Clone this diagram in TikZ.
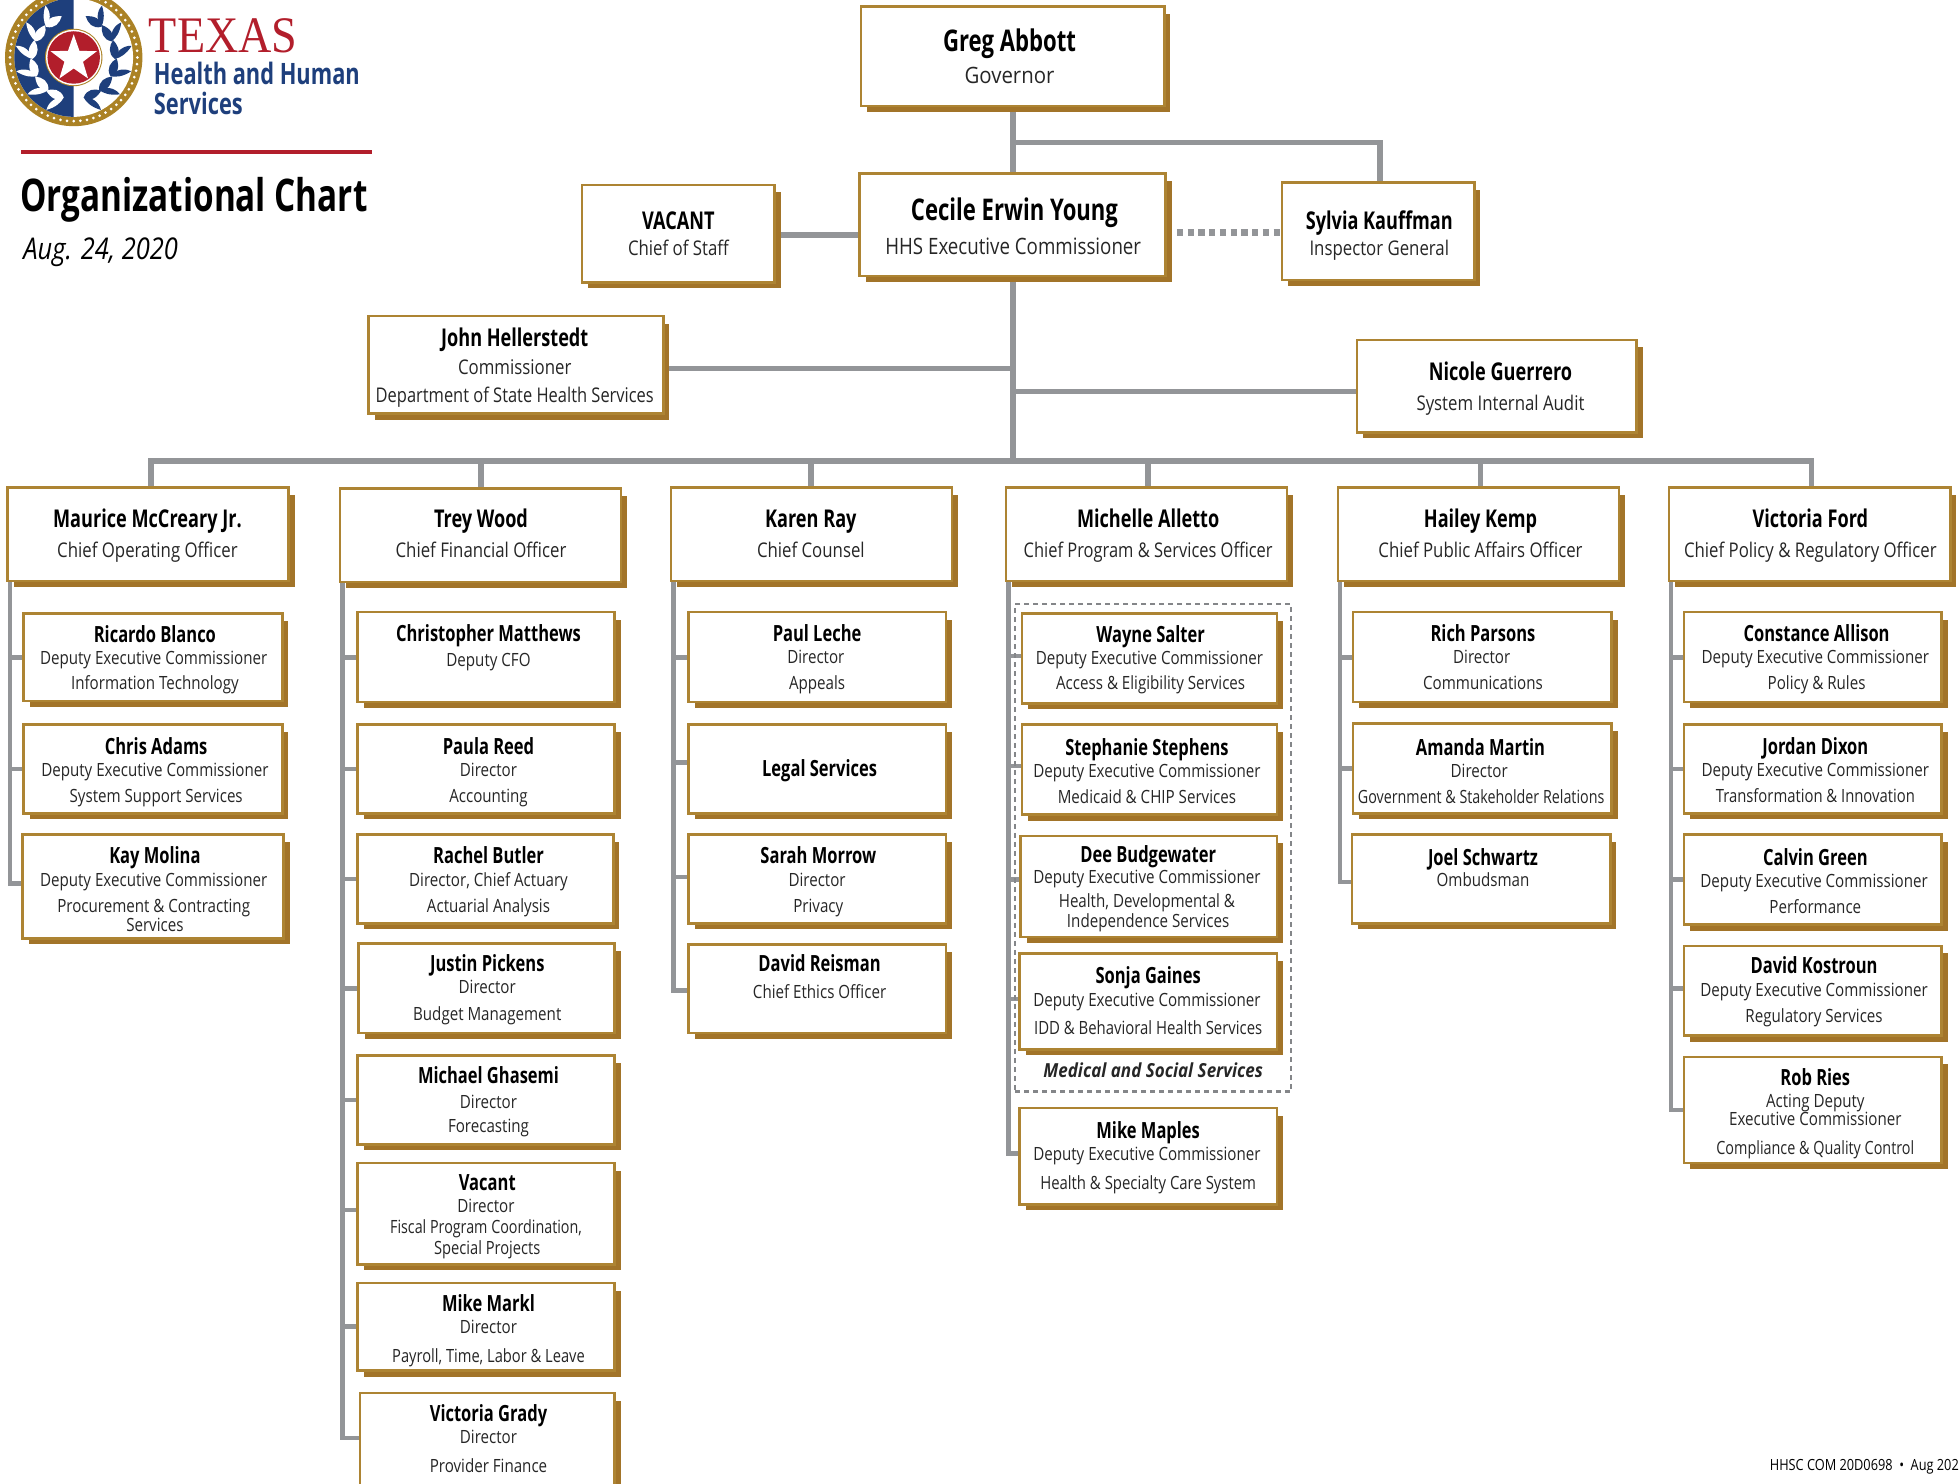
\documentclass[tikz,border=0pt]{standalone}
\usepackage{fontspec}
\usetikzlibrary{shapes.geometric}
\setmainfont{Open Sans}
\newfontfamily\namef[FakeStretch=0.74]{Open Sans Bold}
\newfontfamily\titlef[FakeStretch=0.83]{Open Sans}
\newfontfamily\titleitf[FakeStretch=0.85]{Open Sans Italic}
\newfontfamily\sbif[FakeStretch=0.88]{Open Sans Bold Italic}
\newfontfamily\texasf[FakeStretch=0.9]{Liberation Serif}
\pgfdeclarelayer{bg}
\pgfsetlayers{bg,main}
\definecolor{gold}{HTML}{A27429}
\definecolor{goldline}{HTML}{AD8433}
\definecolor{bar}{HTML}{939598}
\definecolor{texred}{HTML}{B21E2B}
\definecolor{texblue}{HTML}{1E3F7C}
\newcount\tcnt
\tikzset{
  box/.style={draw=goldline,line width=2pt,fill=white,inner sep=0pt,outer sep=0pt,anchor=north west},
  nmA/.style={font=\namef\fontsize{23.9}{24}\selectfont,anchor=base,inner sep=0pt,text=black,yshift=-2pt},
  nmB/.style={font=\namef\fontsize{19.6}{20}\selectfont,anchor=base,inner sep=0pt,text=black,yshift=-2pt},
  nmC/.style={font=\namef\fontsize{17.85}{18}\selectfont,anchor=base,inner sep=0pt,text=black,yshift=-1pt},
  tiA/.style={font=\titlef\fontsize{18.05}{18}\selectfont,anchor=base,inner sep=0pt,text=black!85,yshift=-1pt},
  tiB/.style={font=\titlef\fontsize{16.2}{16}\selectfont,anchor=base,inner sep=0pt,text=black!85,yshift=-1pt},
  tiC/.style={font=\titlef\fontsize{14.6}{14}\selectfont,anchor=base,inner sep=0pt,text=black!85,yshift=0.3pt},
  trunk/.style={draw=bar,line width=4.5pt},
  spinebar/.style={draw=bar,line width=3.8pt},
}
\newcommand{\sq}[2]{\scalebox{#1}[1]{#2}}
\newcommand{\bx}[5]{% id x1 y1 x2 y2 (outline) ; shadow +4.5
  \fill[gold] ({#2+5},{#3+6}) rectangle ({#4+4.8},{#5+4.8});
  \node[box,minimum width={(#4-#2)*1pt},minimum height={(#5-#3)*1pt}] (#1) at (#2,#3) {};
}
\newcommand{\T}[4]{% style x ycenter text
  \global\advance\tcnt by 1
  \node[#1] (txt\the\tcnt) at (#2,{#3+5.5}) {#4};
}
\newcommand{\leafpair}[2]{% angle, sign
  \begin{scope}[shift={(59,46)},rotate=#1]
    \fill (33,0) .. controls (27,{#2*4}) and (28,{#2*10}) .. (31,{#2*15}) .. controls (36,{#2*10}) and (38,{#2*4}) .. cycle;
    \fill (33,0) .. controls (37,{#2*1}) and (42,{#2*4}) .. (46,{#2*11}) .. controls (39,{#2*11}) and (34,{#2*6}) .. cycle;
  \end{scope}
}
\newcommand{\spine}[3]{% parent, xoffset, list child/yshift
  \foreach \c/\o in {#3} {
    \draw[spinebar] ([xshift=#2pt]#1.south west) |- ([yshift=\o pt]\c.west);
  }
}
\begin{document}
\begin{tikzpicture}[x=1pt,y=-1pt]
\useasboundingbox (0,0) rectangle (1568,1187);
\clip (0,0) rectangle (1568,1187);

% ---- logo
\fill[gold!90!yellow] (59,46) circle (55);
\foreach \a in {0,6,...,354} \fill[white] (59,46) ++(\a:51) circle (1.2);
\fill[white] (59,46) circle (47.5);
\fill[texblue] (59,93.5) arc (90:270:47.5) -- cycle;
\begin{scope}[white]\foreach \a in {132,157,182,207,232,256} {\leafpair{\a}{1}}\end{scope}
\begin{scope}[texblue]\foreach \a in {48,23,-2,-27,-52,-76} {\leafpair{\a}{-1}}\end{scope}
\fill[gold!90!yellow] (59,46) circle (23);
\fill[white] (59,46) circle (22.2);
\fill[texred] (59,46) circle (21);
\node[star,star points=5,star point ratio=2.5,fill=white,minimum size=39pt,inner sep=0pt] (logostar) at (59,47) {};
\node[anchor=base west,inner sep=0pt,text=texred,font=\texasf\fontsize{41}{41}\selectfont] (texas) at (119,42) {TEXAS};
\node[anchor=base west,inner sep=0pt,text=texblue,font=\namef\fontsize{23.6}{24}\selectfont] (hhs1) at (123,68) {Health and Human};
\node[anchor=base west,inner sep=0pt,text=texblue,font=\namef\fontsize{23.6}{24}\selectfont] (hhs2) at (123,91.5) {Services};
\fill[texred] (17,120) rectangle (298,123);
\node[anchor=base west,inner sep=0pt,font=\namef\fontsize{36}{36}\selectfont] (ttl) at (16,169) {Organizational Chart};
\node[anchor=base west,inner sep=0pt,font=\titleitf\fontsize{24}{24}\selectfont] (dt) at (18.5,208) {Aug. 24, 2020};
\node[anchor=base east,inner sep=0pt,font=\titlef\fontsize{12.3}{12.3}\selectfont] (foot) at (1568,1177) {HHSC COM 20D0698\ \ \textbullet\ \ Aug 202};

% ---- dashed group
\node[draw=bar!90!black,line width=2pt,dash pattern=on 4pt off 3.2pt,inner sep=0pt,anchor=north west,minimum width=221pt,minimum height=390pt] (msss) at (811.5,482.5) {};

% ---- top boxes
\bx{abbott}{689}{5}{932}{85}
\T{nmA}{808}{34}{Greg Abbott}\T{tiA}{808}{60}{\sq{1.09}{Governor}}
\bx{young}{688}{139}{933}{221}
\T{nmA}{812}{169}{Cecile Erwin Young}\T{tiA}{811}{197}{HHS Executive Commissioner}
\bx{vacant}{466}{148}{620}{226}
\T{nmB}{543}{176}{VACANT}\T{tiB}{543}{198}{Chief of Staff}
\bx{kauffman}{1026}{146}{1180}{224}
\T{nmB}{1104}{176}{Sylvia Kauffman}\T{tiB}{1104}{198}{Inspector General}
\bx{hellerstedt}{295}{253}{531}{331}
\T{nmB}{412}{270}{John Hellerstedt}\T{tiB}{412}{293}{Commissioner}\T{tiB}{412}{316}{\sq{.98}{Department of State Health Services}}
\bx{guerrero}{1086}{272}{1310}{346}
\T{nmB}{1201}{297}{Nicole Guerrero}\T{tiB}{1201}{322}{System Internal Audit}

% ---- chiefs
\bx{mccreary}{6}{390}{231}{465}
\T{nmB}{118}{415}{Maurice McCreary Jr.}\T{tiB}{118}{440}{Chief Operating Officer}
\bx{wood}{272}{391}{497}{466}
\T{nmB}{385}{415}{Trey Wood}\T{tiB}{385}{440}{Chief Financial Officer}
\bx{ray}{537}{390}{762}{465}
\T{nmB}{649}{415}{Karen Ray}\T{tiB}{649}{440}{Chief Counsel}
\bx{alletto}{805}{390}{1030}{465}
\T{nmB}{919}{415}{Michelle Alletto}\T{tiB}{919}{440}{\sq{.98}{Chief Program \& Services Officer}}
\bx{kemp}{1071}{390}{1296}{465}
\T{nmB}{1185}{415}{Hailey Kemp}\T{tiB}{1185}{440}{Chief Public Affairs Officer}
\bx{ford}{1336}{390}{1561}{465}
\T{nmB}{1449}{415}{Victoria Ford}\T{tiB}{1449}{440}{Chief Policy \& Regulatory Officer}

% ---- column 1
\bx{blanco}{19}{491}{226}{561}
\T{nmC}{124}{508}{Ricardo Blanco}\T{tiC}{123}{527}{Deputy Executive Commissioner}\T{tiC}{124}{547}{Information Technology}
\bx{adams}{19}{580}{226}{651}
\T{nmC}{125}{597}{Chris Adams}\T{tiC}{124}{616}{Deputy Executive Commissioner}\T{tiC}{125}{637}{System Support Services}
\bx{molina}{18}{668}{227}{751}
\T{nmC}{124}{685}{Kay Molina}\T{tiC}{123}{704}{Deputy Executive Commissioner}\T{tiC}{123}{725}{Procurement \& Contracting}\T{tiC}{124}{740}{Services}

% ---- column 2
\bx{matthews}{286}{490}{492}{562}
\T{nmC}{391}{507}{Christopher Matthews}\T{tiC}{391}{528}{Deputy CFO}
\bx{reed}{286}{580}{492}{651}
\T{nmC}{391}{597}{Paula Reed}\T{tiC}{391}{616}{Director}\T{tiC}{391}{637}{Accounting}
\bx{butler}{286}{668}{491}{739}
\T{nmC}{391}{685}{Rachel Butler}\T{tiC}{391}{704}{Director, Chief Actuary}\T{tiC}{391}{725}{Actuarial Analysis}
\bx{pickens}{287}{755}{492}{827}
\T{nmC}{390}{771}{Justin Pickens}\T{tiC}{390}{790}{Director}\T{tiC}{390}{812}{Budget Management}
\bx{ghasemi}{286}{845}{492}{916}
\T{nmC}{391}{861}{Michael Ghasemi}\T{tiC}{391}{882}{Director}\T{tiC}{391}{901}{Forecasting}
\bx{vacdir}{286}{931}{492}{1012}
\T{nmC}{390}{946}{Vacant}\T{tiC}{389}{965}{Director}\T{tiC}{389}{982}{\sq{.945}{Fiscal Program Coordination,}}\T{tiC}{390}{999}{\sq{.97}{Special Projects}}
\bx{markl}{286}{1027}{492}{1097}
\T{nmC}{391}{1043}{Mike Markl}\T{tiC}{391}{1062}{Director}\T{tiC}{391}{1085}{\sq{.97}{Payroll, Time, Labor \& Leave}}
\bx{grady}{288}{1115}{492}{1195}
\T{nmC}{391}{1131}{Victoria Grady}\T{tiC}{391}{1150}{Director}\T{tiC}{391}{1173}{Provider Finance}

% ---- column 3
\bx{leche}{551}{490}{757}{562}
\T{nmC}{654}{507}{Paul Leche}\T{tiC}{653}{526}{Director}\T{tiC}{654}{547}{Appeals}
\bx{legal}{551}{580}{757}{651}
\T{nmC}{656}{615}{Legal Services}
\bx{morrow}{551}{668}{757}{739}
\T{nmC}{655}{685}{Sarah Morrow}\T{tiC}{654}{704}{Director}\T{tiC}{655}{725}{Privacy}
\bx{reisman}{551}{756}{757}{827}
\T{nmC}{656}{771}{David Reisman}\T{tiC}{656}{794}{Chief Ethics Officer}

% ---- column 4
\bx{salter}{818}{491}{1022}{563}
\T{nmC}{921}{508}{Wayne Salter}\T{tiC}{920}{527}{Deputy Executive Commissioner}\T{tiC}{921}{547}{Access \& Eligibility Services}
\bx{stephens}{818}{580}{1022}{652}
\T{nmC}{918}{598}{Stephanie Stephens}\T{tiC}{918}{617}{Deputy Executive Commissioner}\T{tiC}{918}{638}{Medicaid \& CHIP Services}
\bx{budgewater}{817}{669}{1022}{750}
\T{nmC}{919}{684}{Dee Budgewater}\T{tiC}{918}{702}{Deputy Executive Commissioner}\T{tiC}{918}{721}{Health, Developmental \&}\T{tiC}{919}{737}{Independence Services}
\bx{gaines}{816}{763}{1022}{840}
\T{nmC}{919}{781}{Sonja Gaines}\T{tiC}{918}{800}{Deputy Executive Commissioner}\T{tiC}{919}{823}{\sq{.985}{IDD \& Behavioral Health Services}}
\node[font=\sbif\fontsize{15.5}{15}\selectfont,anchor=base,inner sep=0pt,text=black!85] (msslabel) at (923,862.5) {Medical and Social Services};
\bx{maples}{816}{887}{1022}{964}
\T{nmC}{919}{905}{Mike Maples}\T{tiC}{918}{924}{Deputy Executive Commissioner}\T{tiC}{919}{947}{\sq{.985}{Health \& Specialty Care System}}

% ---- column 5
\bx{parsons}{1083}{490}{1290}{562}
\T{nmC}{1187}{507}{Rich Parsons}\T{tiC}{1186}{526}{Director}\T{tiC}{1187}{547}{Communications}
\bx{martin}{1083}{579}{1290}{651}
\T{nmC}{1185}{598}{Amanda Martin}\T{tiC}{1184}{617}{Director}\T{tiC}{1185.5}{638}{\sq{.945}{Government \& Stakeholder Relations}}
\bx{schwartz}{1082}{668}{1289}{739}
\T{nmC}{1187}{686}{Joel Schwartz}\T{tiC}{1187}{704}{Ombudsman}

% ---- column 6
\bx{allison}{1348}{490}{1554}{562}
\T{nmC}{1454}{507}{Constance Allison}\T{tiC}{1453}{526}{Deputy Executive Commissioner}\T{tiC}{1454}{547}{Policy \& Rules}
\bx{dixon}{1348}{580}{1554}{651}
\T{nmC}{1453}{597}{Jordan Dixon}\T{tiC}{1453}{616}{Deputy Executive Commissioner}\T{tiC}{1453}{637}{\sq{.98}{Transformation \& Innovation}}
\bx{green}{1348}{668}{1554}{740}
\T{nmC}{1453}{686}{Calvin Green}\T{tiC}{1452}{705}{Deputy Executive Commissioner}\T{tiC}{1453}{726}{Performance}
\bx{kostroun}{1348}{757}{1554}{829}
\T{nmC}{1452}{773}{David Kostroun}\T{tiC}{1452}{792}{Deputy Executive Commissioner}\T{tiC}{1452}{813}{Regulatory Services}
\bx{ries}{1348}{846}{1554}{931}
\T{nmC}{1453}{862}{Rob Ries}\T{tiC}{1453}{881}{Acting Deputy}\T{tiC}{1453}{896}{Executive Commissioner}\T{tiC}{1453}{919}{\sq{.95}{Compliance \& Quality Control}}

% ---- connectors
\begin{pgfonlayer}{bg}
\coordinate (jig) at (811,114);
\draw[trunk] (abbott.south -| jig) -- (young.north -| jig);
\draw[trunk] (jig) -| ([xshift=1.5pt]kauffman.north);
\draw[trunk] ([yshift=-1pt]vacant.east) -- ([yshift=-1pt]vacant.east -| young.west);
\draw[draw=bar,line width=5pt,dash pattern=on 5pt off 3.6pt] (942,186) -- (kauffman.west |- 0,186);
\coordinate (bus) at (811,369);
\draw[trunk] (young.south -| jig) -- (bus);
\draw[trunk] (hellerstedt.east |- 0,295) -- (811,295);
\draw[trunk] (811,313.5) -- (guerrero.west |- 0,313.5);
\foreach \c/\xo in {mccreary/115,wood/113,ray/112,alletto/114,kemp/114,ford/114} {
  \draw[trunk] (bus) -| ([xshift=\xo pt]\c.north west);
}
\spine{mccreary}{2}{blanco/0,adams/0,molina/2.5}
\spine{wood}{2}{matthews/0,reed/0,butler/0,pickens/0,ghasemi/0,vacdir/3,markl/0,grady/4}
\spine{ray}{2}{leche/0,legal/5,morrow/1.5,reisman/-1}
\spine{alletto}{2}{salter/2,stephens/3,budgewater/5.5,gaines/2,maples/2.5}
\spine{kemp}{1.5}{parsons/0,martin/0,schwartz/-2.5}
\spine{ford}{1.5}{allison/0,dixon/0,green/0,kostroun/2,ries/0}
\end{pgfonlayer}
\end{tikzpicture}
\end{document}
